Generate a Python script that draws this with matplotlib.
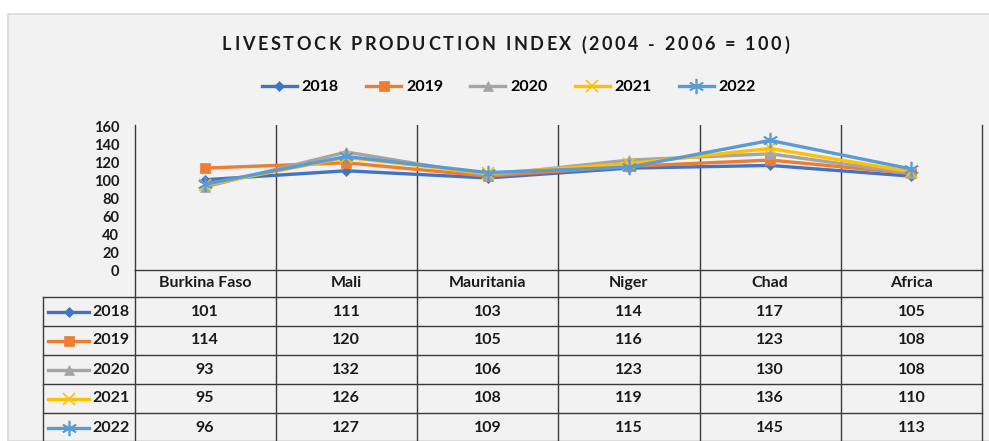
import numpy as np
import matplotlib.pyplot as plt
from matplotlib.lines import Line2D
from matplotlib.patches import Rectangle
from matplotlib import transforms
from matplotlib.font_manager import FontProperties, findfont
from matplotlib.ft2font import FT2Font

plt.rcParams['font.family'] = ['Lato', 'DejaVu Sans']

# data
countries = ['Burkina Faso', 'Mali', 'Mauritania', 'Niger', 'Chad', 'Africa']
years = ['2018', '2019', '2020', '2021', '2022']
v2018 = [101, 111, 103, 114, 117, 105]
v2019 = [114, 120, 105, 116, 123, 108]
v2020 = [93, 132, 106, 123, 130, 108]
v2021 = [95, 126, 108, 119, 136, 110]
v2022 = [96, 127, 109, 115, 145, 113]
series = [v2018, v2019, v2020, v2021, v2022]
yticks = [0, 20, 40, 60, 80, 100, 120, 140, 160]

colors = ['#4472C4', '#ED7D31', '#A5A5A5', '#FFC000', '#5B9BD5']
markers = ['D', 's', '^', 'x', (6, 2, 0)]
msizes = [5.5, 7, 7.5, 8.5, 11]
grid_c = '#3a3a3a'
txt_c = '#1a1a1a'

W, H = 989, 441
fig = plt.figure(figsize=(W / 100, H / 100), dpi=100, facecolor='white')


def fx(x):
    return x / W


def fy(y):
    return 1 - y / H


# grey chart panel
fig.patches.append(Rectangle((fx(8), 0), 1, fy(14), transform=fig.transFigure,
                             facecolor='#f2f2f2', edgecolor='#d9d9d9', lw=1.2, zorder=-5))

# letter-spaced title
title = 'LIVESTOCK PRODUCTION INDEX (2004 - 2006 = 100)'
fp = FontProperties(family='Lato', weight='bold', size=13)
ft = FT2Font(findfont(fp))
ft.set_size(13, 100)
adv = []
for ch in title:
    g = ft.load_char(ord(ch))
    adv.append(g.linearHoriAdvance / 65536)
spacing = 2.7
total = sum(adv) + spacing * (len(title) - 1)
x = 505.5 - total / 2
for ch, a in zip(title, adv):
    fig.text(fx(x), fy(45), ch, fontproperties=fp, color=txt_c, ha='left', va='center')
    x += a + spacing

# plot area
left, right, top, bot = 134.5, 982, 125, 270
ax = fig.add_axes([fx(left), fy(bot), fx(right - left), (bot - top) / H])
ax.set_facecolor('none')
ax.set_xlim(-0.5, len(countries) - 0.5)
ax.set_ylim(0, 160 * (bot - top) / 143)
xs = np.arange(len(countries))
handles = []
for vals, c, m, ms, lab in zip(series, colors, markers, msizes, years):
    h, = ax.plot(xs, vals, color=c, lw=2.4, marker=m, markersize=ms,
                 markeredgewidth=1.2 if m in ('x', (6, 2, 0)) else 0.5,
                 markeredgecolor=c, label=lab, clip_on=False, zorder=3)
    handles.append(h)
for b in np.arange(0.5, len(countries) - 1, 1):
    ax.axvline(b, color=grid_c, lw=1, zorder=1)
ax.set_xticks([])
ax.set_yticks(yticks)
ax.set_yticklabels([str(t) for t in yticks], fontsize=10.5, fontweight='bold', color=txt_c)
ax.tick_params(axis='y', length=0, pad=11)
ax.spines['top'].set_visible(False)
for s in ['left', 'right', 'bottom']:
    ax.spines[s].set_color(grid_c)
    ax.spines[s].set_linewidth(1)

# legend on top
fig.legend(handles=handles, loc='center', bbox_to_anchor=(fx(509), fy(87)), ncol=5,
           frameon=False, prop=FontProperties(family='Lato', weight='bold', size=11.5),
           handlelength=2.2, handletextpad=0.3, columnspacing=1.7)

# data table below the plot
bt = transforms.blended_transform_factory(ax.transData, fig.transFigure)
for i, name in enumerate(countries):
    ax.text(i, fy(283), name, transform=bt, ha='center', va='center',
            fontsize=11.5, fontweight='bold', color=txt_c, clip_on=False)

row_top = 297
row_h = 29
tbl_left = 42.5


def hline(y, x0, x1):
    fig.add_artist(Line2D([fx(x0), fx(x1)], [fy(y), fy(y)], color=grid_c, lw=1,
                          transform=fig.transFigure))


def vline(x, y0, y1):
    fig.add_artist(Line2D([fx(x), fx(x)], [fy(y0), fy(y1)], color=grid_c, lw=1,
                          transform=fig.transFigure))


for r in range(len(years) + 1):
    hline(row_top + r * row_h, tbl_left, right)
vline(tbl_left, row_top, H + 2)
vline(left, bot, H + 2)
vline(right, bot, H + 2)
for b in np.arange(0.5, len(countries) - 1, 1):
    xb = left + (b + 0.5) / len(countries) * (right - left)
    vline(xb, bot, H + 2)

for r, (vals, c, m, ms, lab) in enumerate(zip(series, colors, markers, msizes, years)):
    yc = row_top + (r + 0.5) * row_h
    fig.add_artist(Line2D([fx(48), fx(89)], [fy(yc), fy(yc)], color=c, lw=2.4,
                          transform=fig.transFigure))
    fig.add_artist(Line2D([fx(68.5)], [fy(yc)], color=c, marker=m, markersize=ms,
                          markeredgewidth=1.2 if m in ('x', (6, 2, 0)) else 0.5,
                          markeredgecolor=c, transform=fig.transFigure))
    fig.text(fx(92), fy(yc), lab, ha='left', va='center', fontsize=11.5,
             fontweight='bold', color=txt_c)
    for i, v in enumerate(vals):
        ax.text(i, fy(yc), str(v), transform=bt, ha='center', va='center',
                fontsize=11.5, fontweight='bold', color=txt_c, clip_on=False)

fig.savefig('out.png', dpi=100, facecolor='white')
